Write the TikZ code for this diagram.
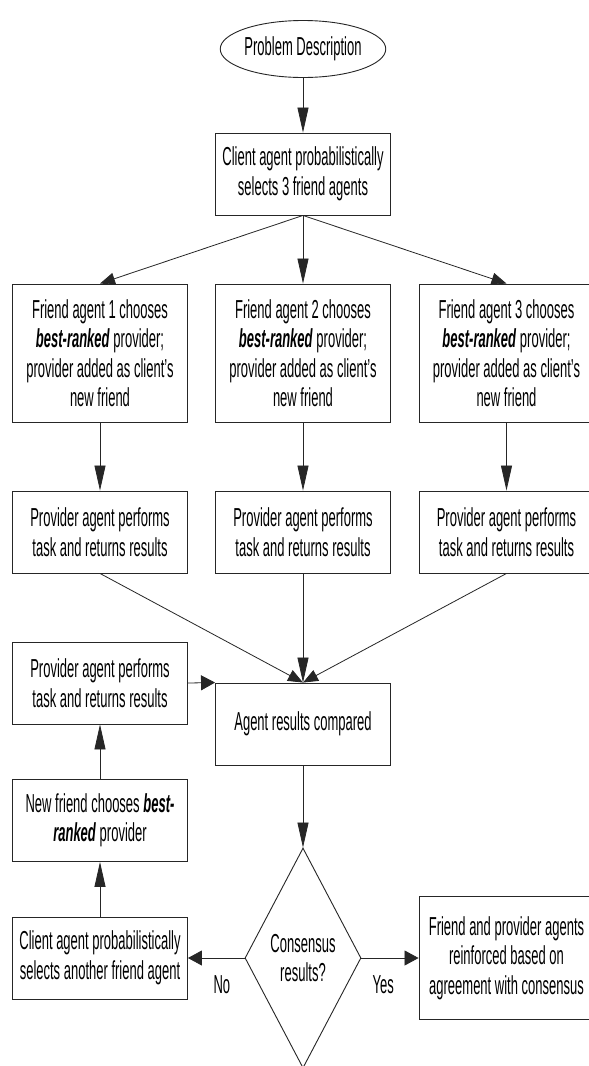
\documentclass[tikz,border=0pt]{standalone}
\usepackage{fontspec}
\setmainfont{Liberation Sans}[FakeStretch=0.5]
\usetikzlibrary{shapes.geometric,arrows.meta}
\begin{document}
\begin{tikzpicture}[x=1pt,y=-1pt,
  font=\fontsize{26pt}{29.5pt}\selectfont,
  box/.style={draw=black!85, line width=0.9pt, rectangle, minimum width=175pt, inner sep=0pt, align=center},
  conn/.style={draw=black!85, line width=0.8pt},
  arrV/.style={conn, -{Triangle[length=25pt,width=11pt]}},
  arrH/.style={conn, -{Triangle[length=14pt,width=15pt]}},
  arrD/.style={conn, -{Triangle[length=15pt,width=12pt]}},
  lbl/.style={inner sep=0pt}
]
\useasboundingbox (0,0) rectangle (589,1066);
\clip (0,0) rectangle (589,1066);
\fill[white] (0,0) rectangle (589,1066);

\node[ellipse, draw=black!85, line width=0.9pt, minimum width=154pt, minimum height=57pt, inner sep=0pt] (pd) at (303,49) {Problem Description};

\node[box, minimum height=82pt] (c1) at (303,174) {Client agent probabilistically\\selects 3 friend agents};

\node[box, minimum height=138pt] (f1) at (100,353) {Friend agent 1 chooses\\\textbf{\textit{best-ranked}} provider;\\provider added as client’s\\new friend};
\node[box, minimum height=138pt] (f2) at (303,353) {Friend agent 2 chooses\\\textbf{\textit{best-ranked}} provider;\\provider added as client’s\\new friend};
\node[box, minimum height=138pt] (f3) at (506.5,353) {Friend agent 3 chooses\\\textbf{\textit{best-ranked}} provider;\\provider added as client’s\\new friend};

\node[box, minimum height=82pt] (p1) at (100,532) {Provider agent performs\\task and returns results};
\node[box, minimum height=82pt] (p2) at (303,532) {Provider agent performs\\task and returns results};
\node[box, minimum height=82pt] (p3) at (506.5,532) {Provider agent performs\\task and returns results};

\node[box, minimum height=82pt] (p4) at (100,683) {Provider agent performs\\task and returns results};
\node[box, minimum height=82pt] (ag) at (303,724) {Agent results compared};
\node[box, minimum height=82pt] (nf) at (100,820.5) {New friend chooses \textbf{\textit{best-}}\\\textbf{\textit{ranked}} provider};
\node[box, minimum height=82pt] (c2) at (100,958) {Client agent probabilistically\\selects another friend agent};

\node[diamond, draw=black!85, line width=0.9pt, minimum width=116pt, minimum height=220pt, inner sep=0pt,
  label={[align=center, lbl]center:Consensus\\results?}] (dm) at (303,958) {};

\node[box, minimum height=123pt] (yb) at (506.5,958) {Friend and provider agents\\reinforced based on\\agreement with consensus};

\draw[arrV] (pd) -- (c1);
\draw[arrD] (c1.south) -- (f1.north);
\draw[arrV] (c1.south) -- (f2.north);
\draw[arrD] (c1.south) -- (f3.north);
\draw[arrV] (f1) -- (p1);
\draw[arrV] (f2) -- (p2);
\draw[arrV] (f3) -- (p3);
\draw[arrD] (p1.south) -- (ag.north);
\draw[arrV] (p2.south) -- (ag.north);
\draw[arrD] (p3.south) -- (ag.north);
\draw[arrH] (p4.east) -- (ag.north west);
\draw[arrV] (ag) -- (dm);
\draw[arrV] (nf) -- (p4);
\draw[arrV] (c2) -- (nf);
\draw[arrH] (dm.west) -- node[lbl, pos=0.4, yshift=-27pt] {No} (c2.east);
\draw[arrH] (dm.east) -- node[lbl, pos=0.38, yshift=-27pt] {Yes} (yb.west);
\end{tikzpicture}
\end{document}
